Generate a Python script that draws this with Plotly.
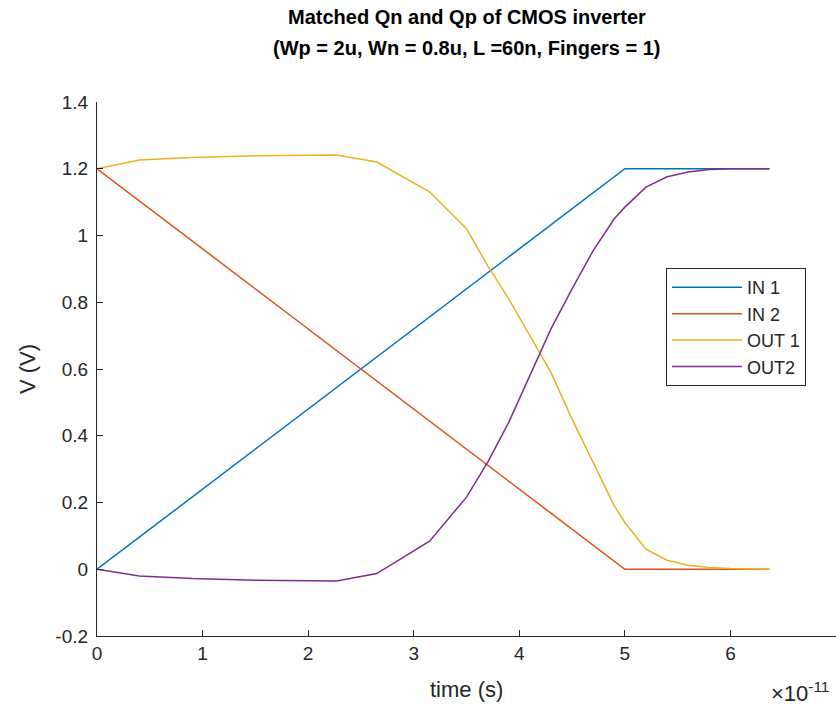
import plotly.graph_objects as go

# Transient simulation of the inverter pair (time in units of 1e-11 s)
time = [0, 0.4, 0.9, 1.5, 2.27, 2.65, 3.15, 3.5, 3.7, 3.9, 4.1, 4.3, 4.5,
        4.7, 4.9, 5.0, 5.2, 5.4, 5.6, 5.8, 6.0, 6.37]

in_1 = [0.0, 0.096, 0.216, 0.36, 0.545, 0.636, 0.756, 0.84, 0.888, 0.936,
        0.984, 1.032, 1.08, 1.128, 1.176, 1.2, 1.2, 1.2, 1.2, 1.2, 1.2, 1.2]

in_2 = [1.2, 1.104, 0.984, 0.84, 0.655, 0.564, 0.444, 0.36, 0.312, 0.264,
        0.216, 0.168, 0.12, 0.072, 0.024, 0.0, 0.0, 0.0, 0.0, 0.0, 0.0, 0.0]

out_1 = [1.2, 1.226, 1.234, 1.239, 1.241, 1.22, 1.131, 1.02, 0.91, 0.81,
         0.70, 0.59, 0.45, 0.32, 0.19, 0.14, 0.06, 0.027, 0.012, 0.005,
         0.002, 0.0]

out_2 = [0.0, -0.02, -0.028, -0.033, -0.035, -0.013, 0.084, 0.216, 0.32,
         0.44, 0.58, 0.72, 0.84, 0.955, 1.05, 1.085, 1.145, 1.176, 1.19,
         1.198, 1.2, 1.2]

names = ["IN 1", "IN 2", "OUT 1", "OUT2"]
colors = ["#0072BD", "#D95319", "#EDB120", "#7E2F8E"]
series = [in_1, in_2, out_1, out_2]

x_ticks = [0, 1, 2, 3, 4, 5, 6]
y_ticks = [-0.2, 0, 0.2, 0.4, 0.6, 0.8, 1, 1.2, 1.4]
y_labels = ["-0.2", "0", "0.2", "0.4", "0.6", "0.8", "1", "1.2", "1.4"]

FONT = "Liberation Sans, Arial, Helvetica, sans-serif"
INK = "#262626"
TICK_SIZE = 19
LEGEND_SIZE = 18
LABEL_SIZE = 22
TITLE_SIZE = 20

fig = go.Figure()
for i, (name, col, vals) in enumerate(zip(names, colors, series)):
    fig.add_trace(go.Scatter(
        x=time, y=vals, mode="lines", name=name,
        line=dict(color=col, width=1.5),
        legendgroup=f"g{i}",
    ))

fig.update_layout(
    width=836, height=716,
    margin=dict(l=97, r=0, t=102, b=80),
    paper_bgcolor="white", plot_bgcolor="white",
    font=dict(family=FONT, color=INK, size=TICK_SIZE),
    showlegend=True,
    legend=dict(
        x=0.77, y=0.689, xanchor="left", yanchor="top",
        bgcolor="white", bordercolor=INK, borderwidth=1,
        font=dict(size=LEGEND_SIZE, color=INK, family=FONT),
        tracegroupgap=0, itemwidth=70,
    ),
    xaxis=dict(
        range=[0, 7.0], tickvals=x_ticks, ticktext=[str(v) for v in x_ticks],
        showline=True, linecolor=INK, linewidth=1.2,
        ticks="inside", ticklen=6, tickcolor=INK, tickwidth=1,
        showgrid=False, zeroline=False,
        tickfont=dict(size=TICK_SIZE, color=INK),
    ),
    yaxis=dict(
        range=[-0.2, 1.4], tickvals=y_ticks, ticktext=y_labels,
        showline=True, linecolor=INK, linewidth=1.2,
        ticks="inside", ticklen=6, tickcolor=INK, tickwidth=1,
        showgrid=False, zeroline=False,
        tickfont=dict(size=TICK_SIZE, color=INK),
        ticklabelstandoff=4,
    ),
    annotations=[
        dict(text="<b>Matched Qn and Qp of CMOS inverter</b>",
             xref="paper", yref="paper", x=0.5, y=1.159,
             xanchor="center", yanchor="middle", showarrow=False,
             font=dict(size=TITLE_SIZE, color="black")),
        dict(text="<b>(Wp = 2u, Wn = 0.8u, L =60n, Fingers = 1)</b>",
             xref="paper", yref="paper", x=0.5, y=1.101,
             xanchor="center", yanchor="middle", showarrow=False,
             font=dict(size=TITLE_SIZE, color="black")),
        dict(text="time (s)", xref="paper", yref="paper", x=0.5, y=-0.101,
             xanchor="center", yanchor="middle", showarrow=False,
             font=dict(size=LABEL_SIZE, color=INK)),
        dict(text="V (V)", xref="paper", yref="paper", x=-0.0947, y=0.5,
             xanchor="center", yanchor="middle", showarrow=False,
             textangle=-90, font=dict(size=LABEL_SIZE, color=INK)),
        dict(text="\u00d710<sup>-11</sup>", xref="paper", yref="paper",
             x=1, y=-0.105, xanchor="right", yanchor="middle", xshift=-5,
             showarrow=False, font=dict(size=LABEL_SIZE, color=INK)),
    ],
)

fig.write_html("out.html")
